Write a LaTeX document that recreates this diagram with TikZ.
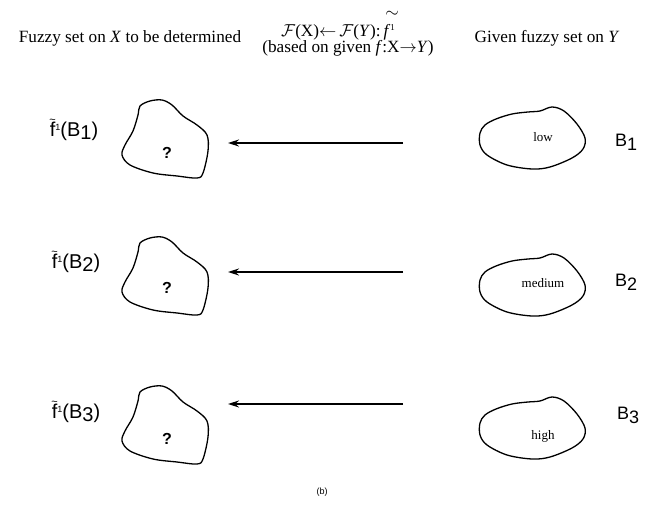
\documentclass[tikz,border=0pt]{standalone}
\usepackage{amsmath}
\usepackage{fontspec}
\newfontfamily\labfont{Liberation Sans}
\newfontfamily\headfont{Liberation Serif}
\usetikzlibrary{arrows.meta}

% sans f with a tilde above it
\newcommand{\tildef}{\ooalign{f\cr\hidewidth\raisebox{12.5pt}{\fontsize{11}{11}\selectfont\textasciitilde}\hidewidth\cr}}

\tikzset{
  blobline/.style={line width=1.3pt, line join=round},
  leftblob/.pic={
    \draw[blobline] plot[smooth cycle, tension=0.55] coordinates{
      (-25,-35) (-15,-40) (-3,-41) (7,-36) (18,-25) (32,-16) (42,-6)
      (43,10) (38,32) (32,37) (12,35) (-12,32) (-35,24) (-43,14)
      (-40,4) (-32,-10) (-27,-26)};
  },
  rightblob/.pic={
    \draw[blobline] plot[smooth cycle, tension=0.55] coordinates{
      (-52,-5) (-47,-13) (-36,-19) (-20,-24) (-4,-26) (8,-27) (20,-31)
      (32,-27) (45,-14) (53,0) (51,11) (40,20) (18,29) (0,31)
      (-25,27) (-45,17) (-52,7)};
  },
  header/.style={font=\headfont\fontsize{17.2}{18}\selectfont, inner sep=0pt, anchor=base},
  fname/.style={font=\labfont\fontsize{20}{22}\selectfont, inner sep=0pt},
  bname/.style={font=\labfont\fontsize{18}{20}\selectfont, inner sep=0pt},
  qmark/.style={font=\labfont\bfseries\fontsize{16}{18}\selectfont, inner sep=0pt},
  grade/.style={font=\headfont\fontsize{13}{15}\selectfont, inner sep=0pt},
  mapto/.style={line width=1.4pt, -{Stealth[length=11pt,width=7pt]}},
}

\begin{document}
\begin{tikzpicture}[x=1pt, y=-1pt]
\useasboundingbox[fill=white] (0,0) rectangle (647,518);

% column headings
\node[header] (hleft) at (130,43) {Fuzzy set on \textit{X} to be determined};
\node[header] (hmid1) at (338,37) {$\mathcal{F}$(X)$\leftarrow$\,$\mathcal{F}$(\textit{Y}):\,%
  \textit{f}\raisebox{6pt}{\fontsize{9}{9}\selectfont 1}};
\node[font=\headfont\fontsize{16}{16}\selectfont, inner sep=0pt] (tl) at (392,14) {$\sim$};
\node[header] (hmid2) at (348,53) {(based on given \textit{f}:X$\to$\textit{Y})};
\node[header] (hright) at (547,43) {Given fuzzy set on \textit{Y}};

% rows: unknown preimage on the left, given fuzzy set on the right
\foreach \i/\yl/\yq/\ya/\yr/\yt/\g in {1/141/153/143/138/137/low, 2/278/288/272/285/283/medium, 3/427/439/404/428/436/high}{
  \pic at (165,\yl) {leftblob};
  \node[qmark] (q\i) at (167,\yq) {?};
  \pic at (532,\yr) {rightblob};
  \node[grade] (g\i) at (543,\yt) {\g};
  \coordinate (s\i) at (403,\ya);
  \coordinate (e\i) at (228,\ya);
  \draw[mapto] (s\i) -- (e\i);
}

% set names
\node[fname] (f1) at (74,131) {\tildef\raisebox{6pt}{\fontsize{9}{9}\selectfont 1}(B\raisebox{-3pt}{1})};
\node[fname] (f2) at (76,263) {\tildef\raisebox{6pt}{\fontsize{9}{9}\selectfont 1}(B\raisebox{-3pt}{2})};
\node[fname] (f3) at (76,413) {\tildef\raisebox{6pt}{\fontsize{9}{9}\selectfont 1}(B\raisebox{-3pt}{3})};

\node[bname] (b1) at (626,142) {B\raisebox{-4pt}{1}};
\node[bname] (b2) at (626,282) {B\raisebox{-4pt}{2}};
\node[bname] (b3) at (628,415) {B\raisebox{-4pt}{3}};

\node[font=\labfont\fontsize{9}{10}\selectfont] (cap) at (322,492) {(b)};
\end{tikzpicture}
\end{document}
